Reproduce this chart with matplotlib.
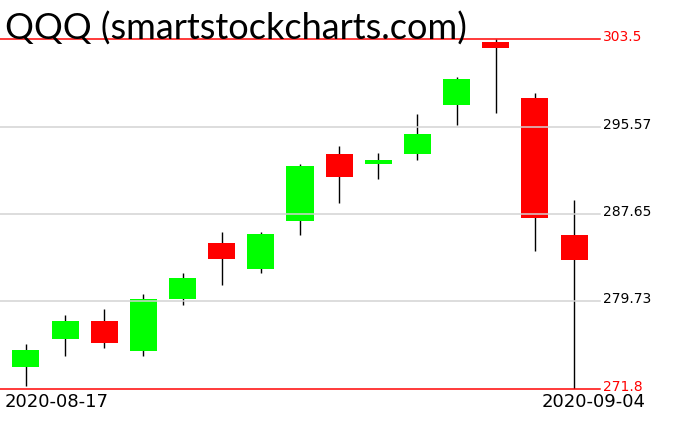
import matplotlib
matplotlib.use('Agg')
import matplotlib.pyplot as plt

# QQQ daily candles, 2020-08-17 .. 2020-09-04
dates = ['2020-08-17', '2020-08-18', '2020-08-19', '2020-08-20', '2020-08-21',
         '2020-08-24', '2020-08-25', '2020-08-26', '2020-08-27', '2020-08-28',
         '2020-08-31', '2020-09-01', '2020-09-02', '2020-09-03', '2020-09-04']
opens = [273.82, 276.33, 277.96, 275.27, 279.95, 285.02, 282.70, 287.04,
         293.08, 292.18, 293.08, 297.55, 303.26, 298.18, 285.75]
highs = [275.88, 278.50, 279.05, 280.40, 282.31, 286.02, 286.02, 292.18,
         293.84, 293.17, 296.71, 300.06, 303.50, 298.64, 288.95]
lows = [272.10, 274.82, 275.51, 274.82, 279.44, 281.25, 282.31, 285.78,
        288.67, 290.85, 292.57, 295.74, 296.82, 284.33, 271.80]
closes = [275.33, 277.96, 275.99, 279.95, 281.85, 283.57, 285.84, 292.00,
          291.03, 292.54, 294.90, 299.88, 302.68, 287.29, 283.51]
grid_levels = [279.73, 287.65, 295.57]
hi_level = 303.5
lo_level = 271.8

W, H = 676, 431
fig = plt.figure(figsize=(W / 100, H / 100), dpi=100, facecolor='white')
ax = fig.add_axes([0, (H - 390) / H, 600 / W, 350 / H])
ax.set_axis_off()
ax.set_xlim(-0.664, len(dates) - 1 + 0.664)
ax.set_ylim(lo_level, hi_level)

px = 0.72  # one pixel in points
for i in range(len(dates)):
    o, h, l, c = opens[i], highs[i], lows[i], closes[i]
    col = '#00ff00' if c >= o else '#ff0000'
    ax.plot([i, i], [l, h], color='black', lw=1.4 * px, zorder=2, solid_capstyle='butt')
    ax.bar(i, abs(c - o), bottom=min(o, c), width=0.69, color=col, zorder=3, linewidth=0)

for g in grid_levels:
    ax.axhline(g, color='#d3d3d3', lw=1.5 * px, zorder=4, clip_on=False)
    ax.annotate('%g' % g, xy=(1, g), xycoords=('axes fraction', 'data'),
                xytext=(3 * px, -1 * px), textcoords='offset points',
                ha='left', va='baseline', fontsize=10, color='black')
for g in [hi_level, lo_level]:
    ax.axhline(g, color='#ff0000', lw=1.5 * px, zorder=5, clip_on=False)
    ax.annotate('%g' % g, xy=(1, g), xycoords=('axes fraction', 'data'),
                xytext=(3 * px, -1 * px), textcoords='offset points',
                ha='left', va='baseline', fontsize=10, color='#ff0000')

# first and last date under the chart
ax.annotate(dates[0], xy=(0, lo_level), xycoords='data',
            xytext=(-21 * px, -3 * px), textcoords='offset points',
            ha='left', va='top', fontsize=13, color='black')
ax.annotate(dates[-1], xy=(len(dates) - 1, lo_level), xycoords='data',
            xytext=(72 * px, -3 * px), textcoords='offset points',
            ha='right', va='top', fontsize=13, color='black')

fig.text(5 / W, 1 - 40 / H, 'QQQ (smartstockcharts.com)', ha='left', va='baseline',
         fontsize=26, fontweight='normal', color='black', family=['Lato', 'DejaVu Sans'])

fig.savefig('out.png', dpi=100, facecolor='white')
